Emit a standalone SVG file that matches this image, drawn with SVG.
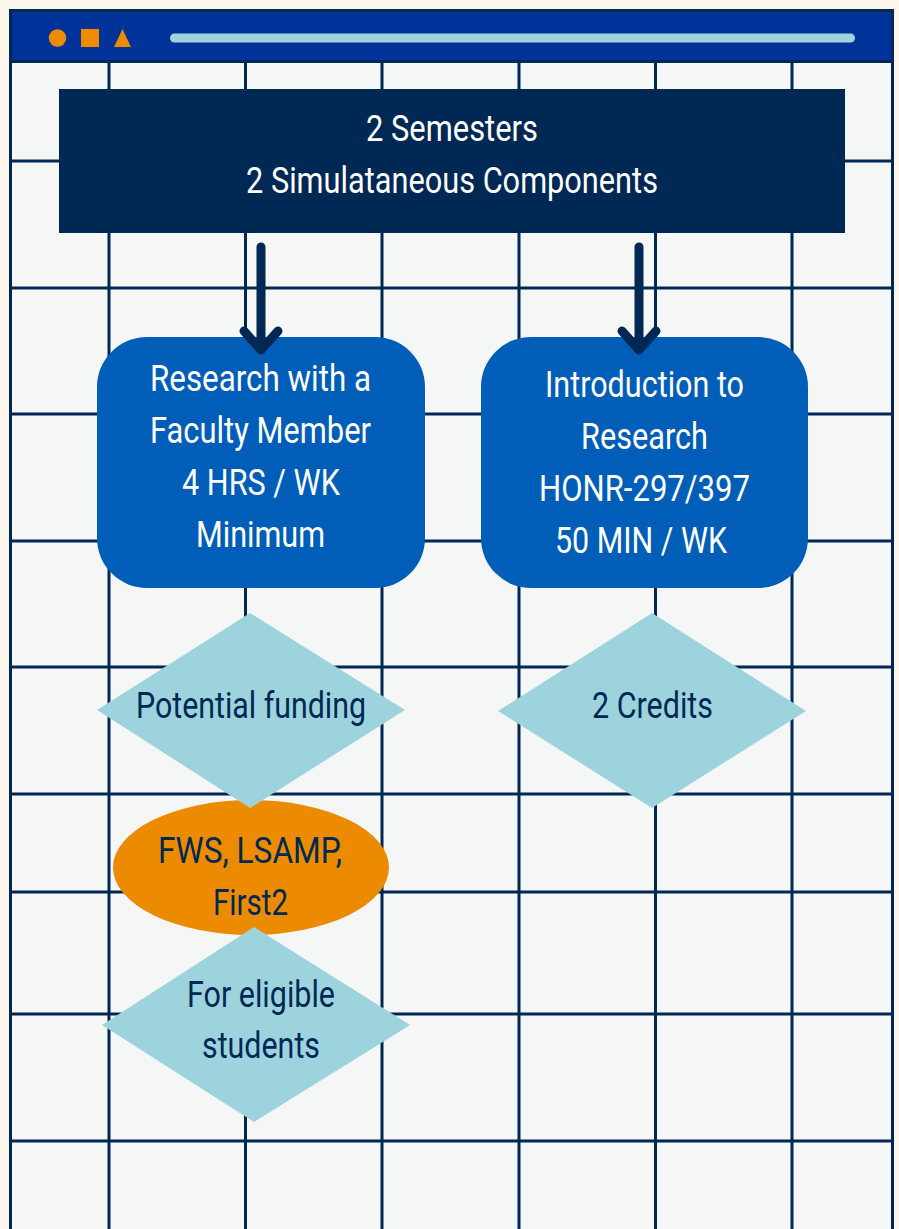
<svg xmlns="http://www.w3.org/2000/svg" width="899" height="1229" viewBox="0 0 899 1229">
<style>
.grid line{stroke:#002855;stroke-width:3}
.t{font-family:Roboto,"Liberation Sans",Arial,sans-serif;font-size:36px;text-anchor:middle}
.w{fill:#ffffff}
.n{fill:#002855}
.dia{fill:#9dd3dd}
.conn{stroke:#002855;stroke-width:9;stroke-linecap:round;stroke-linejoin:round;fill:none}
</style>
<rect x="0" y="0" width="899" height="1229" fill="#fdf6ec"/>
<rect x="10.5" y="10.5" width="882" height="1240" fill="#f5f7f7" stroke="#002855" stroke-width="3"/>
<g class="grid" id="grid">
<line x1="109" y1="61" x2="109" y2="1229"/>
<line x1="245.5" y1="61" x2="245.5" y2="1229"/>
<line x1="382" y1="61" x2="382" y2="1229"/>
<line x1="519" y1="61" x2="519" y2="1229"/>
<line x1="655.5" y1="61" x2="655.5" y2="1229"/>
<line x1="792" y1="61" x2="792" y2="1229"/>
<line x1="10" y1="161" x2="893" y2="161"/>
<line x1="10" y1="288" x2="893" y2="288"/>
<line x1="10" y1="414" x2="893" y2="414"/>
<line x1="10" y1="541" x2="893" y2="541"/>
<line x1="10" y1="667" x2="893" y2="667"/>
<line x1="10" y1="794" x2="893" y2="794"/>
<line x1="10" y1="892" x2="893" y2="892"/>
<line x1="10" y1="1014" x2="893" y2="1014"/>
<line x1="10" y1="1141" x2="893" y2="1141"/>
</g>
<g id="header">
<rect x="12" y="12" width="879" height="49" fill="#003399"/>
<line x1="10" y1="61.5" x2="893" y2="61.5" stroke="#002855" stroke-width="3"/>
<circle cx="57.5" cy="38" r="8.7" fill="#ee8b00"/>
<rect x="81" y="29" width="18" height="18" fill="#ee8b00"/>
<polygon points="122.5,29 131,47 114,47" fill="#ee8b00"/>
<line x1="174.5" y1="38" x2="850.5" y2="38" stroke="#9dd3dd" stroke-width="9" stroke-linecap="round"/>
</g>
<g id="node-top">
<rect x="59" y="89" width="786" height="144" fill="#002855"/>
<text class="t w" x="452" y="141" textLength="172" lengthAdjust="spacingAndGlyphs">2 Semesters</text>
<text class="t w" x="452" y="193" textLength="412" lengthAdjust="spacingAndGlyphs">2 Simulataneous Components</text>
</g>
<g id="node-research">
<rect x="97" y="337" width="328" height="251" rx="50" ry="50" fill="#005eb8"/>
<text class="t w" x="260.5" y="391" textLength="221" lengthAdjust="spacingAndGlyphs">Research with a</text>
<text class="t w" x="260.5" y="443" textLength="221" lengthAdjust="spacingAndGlyphs">Faculty Member</text>
<text class="t w" x="261" y="495" textLength="158" lengthAdjust="spacingAndGlyphs">4 HRS / WK</text>
<text class="t w" x="260.5" y="547" textLength="129" lengthAdjust="spacingAndGlyphs">Minimum</text>
</g>
<g id="node-intro">
<rect x="481" y="337" width="327" height="251" rx="50" ry="50" fill="#005eb8"/>
<text class="t w" x="644.5" y="397" textLength="199" lengthAdjust="spacingAndGlyphs">Introduction to</text>
<text class="t w" x="644.5" y="449" textLength="127" lengthAdjust="spacingAndGlyphs">Research</text>
<text class="t w" x="644.5" y="501" textLength="211" lengthAdjust="spacingAndGlyphs">HONR-297/397</text>
<text class="t w" x="641" y="553" textLength="172" lengthAdjust="spacingAndGlyphs">50 MIN / WK</text>
</g>
<g id="node-fws">
<ellipse cx="251" cy="867.5" rx="138" ry="67.5" fill="#ed8b00"/>
<text class="t n" x="250" y="863" textLength="184" lengthAdjust="spacingAndGlyphs">FWS, LSAMP,</text>
<text class="t n" x="250.5" y="915" textLength="75" lengthAdjust="spacingAndGlyphs">First2</text>
</g>
<g id="node-funding">
<polygon class="dia" points="250,613 405,710 250,808 97,710"/>
<text class="t n" x="251" y="718" textLength="230" lengthAdjust="spacingAndGlyphs">Potential funding</text>
</g>
<g id="node-credits">
<polygon class="dia" points="652,613 806,711 652,808 498,711"/>
<text class="t n" x="652.5" y="718" textLength="121" lengthAdjust="spacingAndGlyphs">2 Credits</text>
</g>
<g id="node-eligible">
<polygon class="dia" points="254,927 410,1025 254,1122 102,1025"/>
<text class="t n" x="261" y="1007" textLength="148" lengthAdjust="spacingAndGlyphs">For eligible</text>
<text class="t n" x="261" y="1058" textLength="118" lengthAdjust="spacingAndGlyphs">students</text>
</g>
<g id="connectors">
<path class="conn" d="M261 247 V350 M244 331 L261 350 L278 331"/>
<path class="conn" d="M639 247 V350 M622 331 L639 350 L656 331"/>
</g>
</svg>
